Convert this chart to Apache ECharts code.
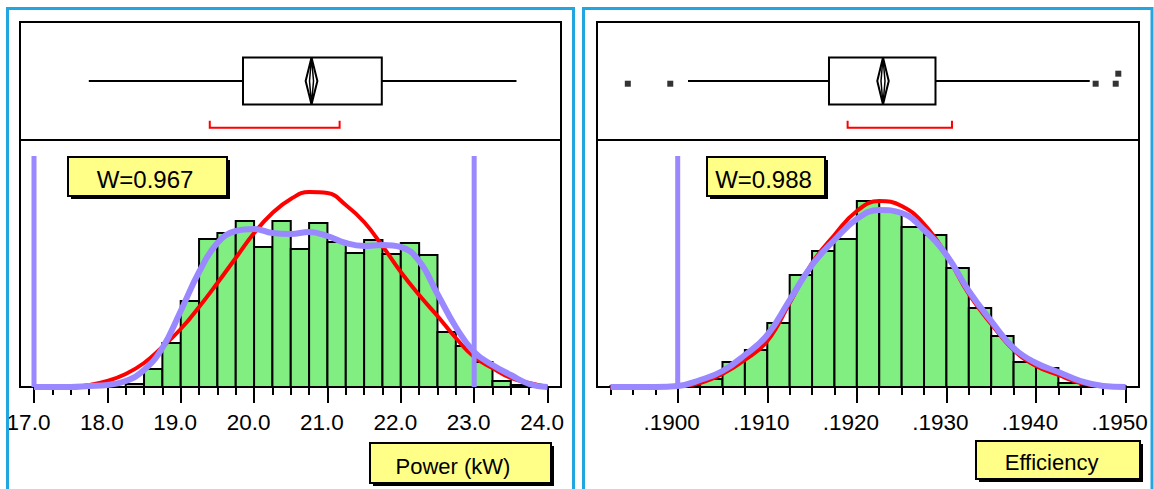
<!DOCTYPE html>
<html>
<head>
<meta charset="utf-8">
<script src="https://cdn.jsdelivr.net/npm/echarts@6/dist/echarts.min.js"></script>
<style>html,body{margin:0;padding:0;background:#fff}#c{width:1154px;height:489px}</style>
</head>
<body>
<div id="c"></div>
<script>
// ---------------- DATA ----------------
// Tick labels
const powerTicks = [17, 18, 19, 20, 21, 22, 23, 24];
const effTicks = [0.190, 0.191, 0.192, 0.193, 0.194, 0.195];

// Histogram: Power (kW), bin width 0.25
const powerBinWidth = 0.25;
const powerBinStarts = [18.25, 18.5, 18.75, 19.0, 19.25, 19.5, 19.75, 20.0, 20.25, 20.5, 20.75, 21.0, 21.25, 21.5, 21.75, 22.0, 22.25, 22.5, 22.75, 23.0, 23.25, 23.5];
const powerCounts    = [3, 18, 44, 86, 148, 154, 166, 140, 166, 138, 164, 145, 134, 147, 133, 144, 132, 55, 41, 25, 6, 2];

// Fitted curves: Power
const powerCurveX = [17.0, 17.25, 17.5, 17.75, 18.0, 18.25, 18.5, 18.75, 19.0, 19.25, 19.5, 19.75, 20.0, 20.25, 20.5, 20.75, 21.0, 21.25, 21.5, 21.75, 22.0, 22.25, 22.5, 22.75, 23.0, 23.25, 23.5, 23.75, 24.0];
const powerNormal = [0, 0, 0, 2, 6, 13, 24, 40, 58, 80, 104, 129, 154, 174, 188, 195, 194, 182, 165, 141, 115, 92, 71, 49, 30, 19, 9, 4, 0];
const powerKde    = [0, 0, 0, 1, 2, 6, 17, 39, 76, 115, 144, 156, 158, 154, 153, 155, 151, 144, 141, 142, 140, 126, 93, 60, 35, 22, 12, 3, 0];

// Box plot: Power  [min whisker, Q1, Q3, max whisker]
const powerBox = [17.747, 19.849, 21.741, 23.577];
const powerMeanCI = [20.703, 20.783, 20.863];      // [lower, mean, upper]
const powerShortestHalf = [19.396, 21.166];
const powerOutliers = [];
const powerSpecLimits = [17.0, 23.0];
const powerW = 'W=0.967';

// Histogram: Efficiency, bin width 0.00025
const effBinWidth = 0.00025;
const effBinStarts = [0.18925, 0.18975, 0.19000, 0.19025, 0.19050, 0.19075, 0.19100, 0.19125, 0.19150, 0.19175, 0.19200, 0.19225, 0.19250, 0.19275, 0.19300, 0.19325, 0.19350, 0.19375, 0.19400, 0.19425, 0.19450, 0.19475];
const effCounts    = [1, 1, 1, 8, 25, 37, 64, 112, 136, 148, 186, 175, 160, 152, 119, 79, 51, 25, 19, 4, 1, 1];

// Fitted curves: Efficiency
const effCurveX = [0.18925, 0.18950, 0.18975, 0.19000, 0.19025, 0.19050, 0.19075, 0.19100, 0.19125, 0.19150, 0.19175, 0.19200, 0.19225, 0.19250, 0.19275, 0.19300, 0.19325, 0.19350, 0.19375, 0.19400, 0.19425, 0.19450, 0.19475, 0.19500];
const effNormal = [0, 0, 0, 1, 4, 13, 27, 46, 84, 124, 152, 176, 186, 181, 163, 132, 93, 63, 37, 21, 12, 4, 1, 0];
const effKde    = [0, 0, 0, 1, 7, 16, 32, 52, 87, 122, 147, 168, 177, 174, 157, 132, 96, 66, 39, 24, 15, 6, 1, 0];

// Box plot: Efficiency
const effBox = [0.190115, 0.191689, 0.192878, 0.194600];
const effMeanCI = [0.192228, 0.192292, 0.192356];
const effShortestHalf = [0.191897, 0.193062];
const effOutliers = [[0.189443, 0.477], [0.189917, 0.477], [0.194666, 0.477], [0.194890, 0.477], [0.194919, 0.562]];
const effSpecLimits = [0.190];
const effW = 'W=0.988';

// ---------------- STYLE ----------------
const FONT = '"Liberation Sans", Arial, Helvetica, sans-serif';
const GREEN = '#80EE80', RED = '#FF0000', PURPLE = '#9988FF', YELLOW = '#FFFF88', BLUE = '#22A6E0';
const HIST_MAX = 247;

function minorTicks(majors, lo, hi) {
  const out = [];
  const step = (majors[1] - majors[0]) / 4;
  for (let v = majors[0] - 4 * step; v <= majors[majors.length - 1] + 1e-12; v += step) {
    const r = Math.round(v * 1e8) / 1e8;
    if (r >= lo && r <= hi) out.push(r);
  }
  return out;
}

function panel(p, cfg) {
  const gBox = p * 2, gHist = p * 2 + 1;
  const xBox = p * 3, xMajor = p * 3 + 1, xMinor = p * 3 + 2;
  const yBox = p * 2, yHist = p * 2 + 1;
  const grids = [
    { left: cfg.left, width: cfg.width, top: 22, height: 118, show: true, borderColor: '#000', borderWidth: 2, backgroundColor: '#fff', outerBoundsMode: 'none' },
    { left: cfg.left, width: cfg.width, top: 140, height: 247, show: true, borderColor: '#000', borderWidth: 2, backgroundColor: '#fff', outerBoundsMode: 'none' }
  ];
  const hiddenX = (g) => ({ gridIndex: g, type: 'value', min: cfg.min, max: cfg.max, show: false, splitLine: { show: false } });
  const xAxes = [
    hiddenX(gBox),
    { gridIndex: gHist, type: 'value', min: cfg.min, max: cfg.max, position: 'bottom',
      axisLine: { show: false, onZero: false }, splitLine: { show: false },
      axisTick: { show: true, customValues: cfg.ticks, length: 16, lineStyle: { color: '#000', width: 2 } },
      axisLabel: { show: true, customValues: cfg.ticks, formatter: cfg.fmt, fontSize: 22.5, color: '#000', fontFamily: FONT, margin: 24, padding: [0, cfg.shift, 0, 0] } },
    { gridIndex: gHist, type: 'value', min: cfg.min, max: cfg.max, position: 'bottom',
      axisLine: { show: false, onZero: false }, splitLine: { show: false },
      axisTick: { show: true, customValues: minorTicks(cfg.ticks, cfg.min, cfg.max), length: 8, lineStyle: { color: '#000', width: 2 } },
      axisLabel: { show: false } }
  ];
  const yAxes = [
    { gridIndex: gBox, type: 'value', min: 0, max: 1, show: false, splitLine: { show: false } },
    { gridIndex: gHist, type: 'value', min: 0, max: HIST_MAX, show: false, splitLine: { show: false } }
  ];
  const bins = cfg.binStarts.map((s, i) => [s, s + cfg.binWidth, cfg.counts[i]]);
  const series = [
    { type: 'custom', xAxisIndex: xMajor, yAxisIndex: yHist, z: 2, data: bins,
      encode: { x: [0, 1], y: 2 },
      renderItem: (params, api) => {
        const a = api.coord([api.value(0), 0]);
        const b = api.coord([api.value(1), api.value(2)]);
        return { type: 'rect', shape: { x: a[0], y: b[1], width: b[0] - a[0], height: a[1] - b[1] },
                 style: { fill: GREEN, stroke: '#000', lineWidth: 2 } };
      } },
    { type: 'line', xAxisIndex: xMajor, yAxisIndex: yHist, z: 3, symbol: 'none', smooth: 0.45,
      data: cfg.curveX.map((x, i) => [x, cfg.normal[i]]), lineStyle: { color: RED, width: 4 } },
    { type: 'line', xAxisIndex: xMajor, yAxisIndex: yHist, z: 4, symbol: 'none', smooth: 0.45,
      data: cfg.curveX.map((x, i) => [x, cfg.kde[i]]), lineStyle: { color: PURPLE, width: 6 } },
    { type: 'custom', xAxisIndex: xMajor, yAxisIndex: yHist, z: 5, data: cfg.spec.map(v => [v]),
      encode: { x: 0 },
      renderItem: (params, api) => {
        const b = api.coord([api.value(0), 0]);
        const t = api.coord([api.value(0), HIST_MAX]);
        return { type: 'line', shape: { x1: b[0], y1: b[1], x2: b[0], y2: t[1] + 16 }, style: { stroke: PURPLE, lineWidth: 5 } };
      } },
    { type: 'custom', xAxisIndex: xBox, yAxisIndex: yBox, z: 2,
      data: [[cfg.box[0], cfg.box[1], cfg.box[2], cfg.box[3], cfg.ci[0], cfg.ci[1], cfg.ci[2], cfg.sh[0], cfg.sh[1]]],
      encode: { x: [0, 1, 2, 3] },
      renderItem: (params, api) => {
        const X = (d) => api.coord([api.value(d), 0.5])[0];
        const yc = api.coord([0, 0.5])[1];
        const yBottom = api.coord([0, 0])[1];
        const top = yc - 23.5, bot = yc + 23.5;
        const xmin = X(0), xq1 = X(1), xq3 = X(2), xmax = X(3), xlo = X(4), xm = X(5), xhi = X(6), xs0 = X(7), xs1 = X(8);
        const blk = { stroke: '#000', lineWidth: 2, fill: 'none' };
        const yb = yBottom - 12.3;
        return { type: 'group', children: [
          { type: 'line', shape: { x1: xmin, y1: yc, x2: xq1, y2: yc }, style: blk },
          { type: 'line', shape: { x1: xq3, y1: yc, x2: xmax, y2: yc }, style: blk },
          { type: 'rect', shape: { x: xq1, y: top, width: xq3 - xq1, height: bot - top }, style: { stroke: '#000', lineWidth: 2, fill: '#fff' } },
          { type: 'polygon', shape: { points: [[xlo, yc], [xm, top], [xhi, yc], [xm, bot]] }, style: blk },
          { type: 'polygon', shape: { points: [[xm - 2, yc], [xm, top], [xm + 2, yc], [xm, bot]] }, style: { stroke: '#000', lineWidth: 1.5, fill: 'none' } },
          { type: 'polyline', shape: { points: [[xs0, yb - 7], [xs0, yb], [xs1, yb], [xs1, yb - 7]] }, style: { stroke: RED, lineWidth: 2, fill: 'none' } }
        ] };
      } },
    { type: 'scatter', xAxisIndex: xBox, yAxisIndex: yBox, z: 3, symbol: 'rect', symbolSize: 6,
      data: cfg.outliers, itemStyle: { color: '#000' } }
  ];
  return { grids, xAxes, yAxes, series };
}

const P1 = panel(0, {
  left: 20, width: 541, min: 16.8092, max: 24.1838, ticks: powerTicks, fmt: v => Number(v).toFixed(1), shift: 11,
  binStarts: powerBinStarts, binWidth: powerBinWidth, counts: powerCounts,
  curveX: powerCurveX, normal: powerNormal, kde: powerKde,
  box: powerBox, ci: powerMeanCI, sh: powerShortestHalf, outliers: powerOutliers, spec: powerSpecLimits
});
const P2 = panel(1, {
  left: 597, width: 542, min: 0.189099, max: 0.195150, ticks: effTicks, fmt: v => Number(v).toFixed(4).replace(/^0/, ''), shift: 12,
  binStarts: effBinStarts, binWidth: effBinWidth, counts: effCounts,
  curveX: effCurveX, normal: effNormal, kde: effKde,
  box: effBox, ci: effMeanCI, sh: effShortestHalf, outliers: effOutliers, spec: effSpecLimits
});

function labelBox(x, y, w, h, text, tx, ty, fs) {
  return [
    { type: 'rect', shape: { x: x + 3, y: y + 3, width: w, height: h }, style: { fill: '#000' }, z: 100 },
    { type: 'rect', shape: { x: x, y: y, width: w, height: h }, style: { fill: YELLOW, stroke: '#000', lineWidth: 2 }, z: 101 },
    { type: 'text', x: tx, y: ty, z: 102,
      style: { text: text, fontSize: fs, fontFamily: FONT, fill: '#000', align: 'center', verticalAlign: 'middle', textAlign: 'center', textVerticalAlign: 'middle' } }
  ];
}

const option = {
  backgroundColor: '#fff',
  animation: false,
  grid: [...P1.grids, ...P2.grids],
  xAxis: [...P1.xAxes, ...P2.xAxes],
  yAxis: [...P1.yAxes, ...P2.yAxes],
  series: [...P1.series, ...P2.series],
  graphic: [
    { type: 'rect', shape: { x: 7.5, y: 8.5, width: 566, height: 500 }, style: { fill: 'none', stroke: BLUE, lineWidth: 3 }, z: 50 },
    { type: 'rect', shape: { x: 583.5, y: 8.5, width: 568.5, height: 500 }, style: { fill: 'none', stroke: BLUE, lineWidth: 3 }, z: 50 },
    ...labelBox(68, 157, 159, 39, powerW, 145, 179.5, 24),
    ...labelBox(707, 157, 118, 39, effW, 763.5, 179.5, 24),
    ...labelBox(370, 443, 181, 40, 'Power (kW)', 453, 466, 22),
    ...labelBox(976, 441, 164, 38, 'Efficiency', 1051.6, 462.3, 22)
  ]
};

const chart = echarts.init(document.getElementById('c'), null, { renderer: 'svg' });
chart.setOption(option);
</script>
</body>
</html>
